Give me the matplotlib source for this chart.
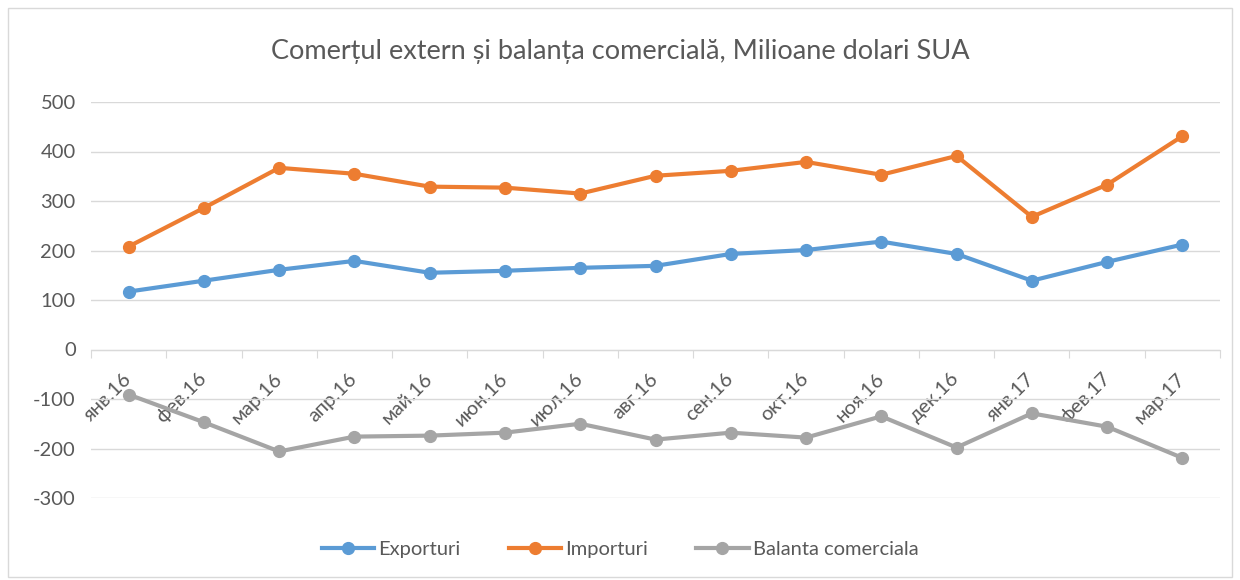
import matplotlib.pyplot as plt
from matplotlib.patches import Rectangle

plt.rcParams['font.family'] = ['Lato', 'DejaVu Sans']
plt.rcParams['axes.unicode_minus'] = False

luni = ["янв.16", "фев.16", "мар.16", "апр.16", "май.16", "июн.16", "июл.16",
        "авг.16", "сен.16", "окт.16", "ноя.16", "дек.16", "янв.17", "фев.17", "мар.17"]
exporturi = [117, 139, 161, 179, 155, 159, 165, 169, 193, 201, 218, 193, 139, 177, 212]
importuri = [208, 286, 367, 355, 329, 327, 315, 351, 361, 379, 353, 391, 268, 333, 431]
balanta = [-91, -147, -206, -176, -174, -168, -150, -182, -168, -178, -135, -198, -129, -156, -219]

text_col = "#595959"
grid_col = "#D9D9D9"

fig = plt.figure(figsize=(12.4, 5.8), dpi=100)
ax = fig.add_axes([91 / 1240, 1 - 498 / 580, (1220 - 91) / 1240, (498 - 102) / 580])

# chenar exterior
fig.patches.append(Rectangle((8 / 1240, 3 / 580), 1224 / 1240, 569 / 580,
                             transform=fig.transFigure, fill=False,
                             edgecolor="#D9D9D9", linewidth=1))

x = list(range(len(luni)))
ax.plot(x, exporturi, color="#5B9BD5", lw=3, marker="o", ms=8.5, label="Exporturi")
ax.plot(x, importuri, color="#ED7D31", lw=3, marker="o", ms=8.5, label="Importuri")
ax.plot(x, balanta, color="#A5A5A5", lw=3, marker="o", ms=8.5, label="Balanta comerciala")

ax.set_xlim(-0.5, len(luni) - 0.5)
ax.set_ylim(-300, 500)
ax.set_yticks(range(-300, 501, 100))
ax.yaxis.grid(True, color=grid_col, lw=1)
ax.set_axisbelow(True)
ax.tick_params(axis="y", length=0, labelsize=14.5, labelcolor=text_col, pad=11)

for s in ["top", "right", "left"]:
    ax.spines[s].set_visible(False)
ax.spines["bottom"].set_position(("data", 0))
ax.spines["bottom"].set_color(grid_col)

ax.set_xticks([i - 0.5 for i in range(len(luni) + 1)], minor=False)
ax.set_xticklabels([])
ax.tick_params(axis="x", which="major", length=6, color=grid_col)
ax.set_xticks(x, minor=True)
ax.set_xticklabels(luni, minor=True, rotation=45, ha="right", va="center",
                   rotation_mode="anchor")
ax.tick_params(axis="x", which="minor", length=0, labelsize=14.5,
               labelcolor=text_col, pad=19)

fig.text(0.5, 1 - 52 / 580, "Comerțul extern și balanța comercială, Milioane dolari SUA",
         ha="center", va="center", fontsize=19.5, color=text_col)

fig.legend(loc="center", bbox_to_anchor=(0.5, 1 - 549 / 580), ncol=3, frameon=False,
           fontsize=14.5, labelcolor=text_col, handlelength=2.6, columnspacing=2.4,
           handletextpad=0.2)

fig.savefig("out.png", dpi=100)
